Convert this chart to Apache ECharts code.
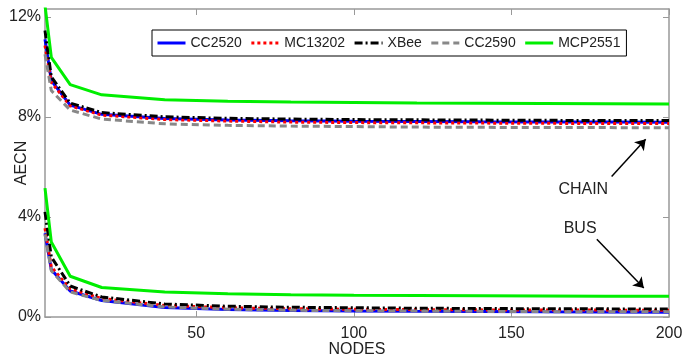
<!DOCTYPE html>
<html>
<head>
<meta charset="utf-8">
<script src="https://cdn.jsdelivr.net/npm/echarts@6/dist/echarts.min.js"></script>
<style>html,body{margin:0;padding:0;background:#fff}#c{width:699px;height:360px}</style>
</head>
<body>
<div id="c"></div>
<script>
const seriesNames = ['CC2520', 'MC13202', 'XBee', 'CC2590', 'MCP2551'];
const nodes = [2, 4, 10, 20, 40, 60, 80, 100, 120, 140, 160, 180, 200];
const xTicks = [50, 100, 150, 200];
const yTicks = [0, 4, 8, 12];

// CHAIN topology (AECN %)
const chainCC2520  = [11.10, 9.45, 8.47, 8.10, 7.93, 7.87, 7.84, 7.82, 7.81, 7.80, 7.795, 7.79, 7.785];
const chainMC13202 = [10.85, 9.38, 8.44, 8.07, 7.89, 7.83, 7.79, 7.77, 7.76, 7.75, 7.74, 7.735, 7.73];
const chainXBee    = [11.45, 9.60, 8.55, 8.17, 8.00, 7.94, 7.91, 7.89, 7.88, 7.87, 7.86, 7.855, 7.85];
const chainCC2590  = [10.50, 9.05, 8.27, 7.91, 7.72, 7.66, 7.63, 7.61, 7.59, 7.58, 7.575, 7.57, 7.56];
const chainMCP2551 = [12.45, 10.38, 9.29, 8.88, 8.68, 8.62, 8.59, 8.57, 8.55, 8.54, 8.53, 8.52, 8.51];

// BUS topology (AECN %)
const busCC2520  = [3.35, 1.90, 1.04, 0.66, 0.38, 0.30, 0.26, 0.24, 0.225, 0.215, 0.205, 0.20, 0.19];
const busMC13202 = [3.55, 2.00, 1.12, 0.74, 0.46, 0.37, 0.33, 0.31, 0.295, 0.285, 0.28, 0.275, 0.27];
const busXBee    = [4.20, 2.40, 1.24, 0.80, 0.52, 0.43, 0.39, 0.37, 0.35, 0.34, 0.33, 0.325, 0.32];
const busCC2590  = [3.30, 1.85, 1.00, 0.66, 0.40, 0.31, 0.27, 0.25, 0.235, 0.225, 0.215, 0.21, 0.205];
const busMCP2551 = [5.15, 3.00, 1.63, 1.18, 1.00, 0.93, 0.89, 0.87, 0.86, 0.85, 0.84, 0.83, 0.83];

const chainData = [chainCC2520, chainMC13202, chainXBee, chainCC2590, chainMCP2551];
const busData = [busCC2520, busMC13202, busXBee, busCC2590, busMCP2551];

const styles = [
  {color: '#0000ff', width: 3, type: 'solid'},
  {color: '#ff0000', width: 3, type: [3, 3]},
  {color: '#000000', width: 3, type: [8, 3, 2, 3]},
  {color: '#888888', width: 3, type: [7, 4]},
  {color: '#00ee00', width: 3, type: 'solid'}
];

const FONT = 'Liberation Sans, Arial, sans-serif';
const TXT = '#222';
const AX = '#999';

function mk(name, vals, st) {
  return {
    name: name, type: 'line', symbol: 'none', clip: true,
    data: nodes.map((n, i) => [n, vals[i]]),
    lineStyle: {color: st.color, width: st.width, type: st.type},
    itemStyle: {color: st.color},
    emphasis: {disabled: true},
    animation: false
  };
}

const series = [];
for (let k = 0; k < 5; k++) {
  series.push(mk(seriesNames[k], chainData[k], styles[k]));
  series.push(mk(seriesNames[k], busData[k], styles[k]));
}
series.push({
  type: 'line', name: 'annot', data: [], symbol: 'none', animation: false, silent: true,
  markLine: {
    silent: true, animation: false,
    symbol: ['none', 'arrow'], symbolSize: 10,
    lineStyle: {color: '#000', width: 1.5, type: 'solid'},
    label: {show: false},
    data: [
      [{coord: [181.8, 5.62]}, {coord: [192.6, 7.10]}],
      [{coord: [177.1, 3.11]}, {coord: [192.0, 1.16]}]
    ]
  },
  markPoint: {
    silent: true, animation: false,
    symbol: 'rect', symbolSize: 1,
    itemStyle: {color: 'rgba(0,0,0,0)'},
    label: {show: true, position: 'inside', formatter: '{b}', color: TXT, fontSize: 16, fontFamily: FONT},
    data: [
      {name: 'CHAIN', coord: [172.8, 5.11]},
      {name: 'BUS', coord: [171.8, 3.54]}
    ]
  }
});

const chart = echarts.init(document.getElementById('c'), null, {renderer: 'canvas'});
chart.setOption({
  animation: false,
  backgroundColor: '#fff',
  textStyle: {fontFamily: FONT},
  grid: {left: 45, right: 30, top: 9, bottom: 43, containLabel: false, outerBoundsMode: 'none'},
  legend: {
    data: seriesNames,
    left: 152, top: 30,
    orient: 'horizontal',
    backgroundColor: '#fff',
    borderColor: '#000', borderWidth: 1,
    padding: [6, 6, 6, 4],
    itemWidth: 28, itemHeight: 14, itemGap: 8,
    itemStyle: {opacity: 0},
    lineStyle: {width: 3},
    textStyle: {fontSize: 14, color: TXT, fontFamily: FONT},
    selectedMode: false
  },
  xAxis: [{
    type: 'value', min: 2, max: 200, position: 'bottom',
    name: 'NODES', nameLocation: 'middle', nameGap: 25, nameMoveOverlap: false,
    nameTextStyle: {fontSize: 16, color: TXT, fontFamily: FONT},
    axisLine: {show: true, lineStyle: {color: AX, width: 1.5}},
    axisTick: {show: true, inside: true, length: 6, customValues: xTicks, lineStyle: {color: AX}},
    axisLabel: {show: true, customValues: xTicks, fontSize: 16, color: TXT, margin: 9, fontFamily: FONT},
    splitLine: {show: false}
  }, {
    type: 'value', min: 2, max: 200, position: 'top',
    axisLine: {show: true, onZero: false, lineStyle: {color: AX, width: 1.5}},
    axisTick: {show: true, inside: true, length: 6, customValues: xTicks, lineStyle: {color: AX}},
    axisLabel: {show: false},
    splitLine: {show: false}
  }],
  yAxis: [{
    type: 'value', min: 0, max: 12.31, position: 'left',
    name: 'AECN', nameLocation: 'middle', nameGap: 15, nameRotate: 90, nameMoveOverlap: false,
    nameTextStyle: {fontSize: 16, color: TXT, fontFamily: FONT},
    axisLine: {show: true, lineStyle: {color: AX, width: 1.5}},
    axisTick: {show: true, inside: true, length: 6, customValues: yTicks, lineStyle: {color: AX}},
    axisLabel: {show: true, customValues: yTicks, fontSize: 16, color: TXT, margin: 4, fontFamily: FONT,
      formatter: v => v + '%'},
    splitLine: {show: false}
  }, {
    type: 'value', min: 0, max: 12.31, position: 'right',
    axisLine: {show: true, onZero: false, lineStyle: {color: AX, width: 1.5}},
    axisTick: {show: true, inside: true, length: 6, customValues: yTicks, lineStyle: {color: AX}},
    axisLabel: {show: false},
    splitLine: {show: false}
  }],
  series: series
});
</script>
</body>
</html>
